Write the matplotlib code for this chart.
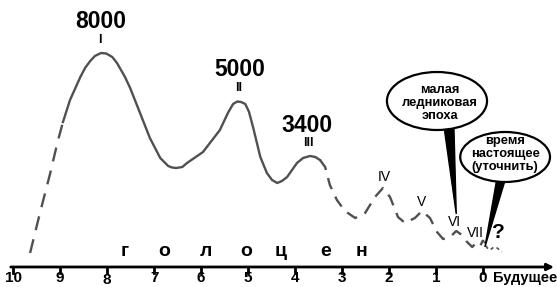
import matplotlib
matplotlib.use('Agg')
import matplotlib.pyplot as plt
from matplotlib.patches import Ellipse, Polygon

plt.rcParams['font.family'] = ['Liberation Sans', 'DejaVu Sans']

# --- данные (тыс. лет назад, условный уровень) ---
# начало, пунктир
early_years = [9.64, 9.43, 9.21, 9.06, 8.94]
early_level = [34, 74, 114, 144, 165]

# основная часть, сплошная линия
main_years = [8.94, 8.79, 8.57, 8.47, 8.36, 8.26, 8.13, 8.02, 7.89, 7.79, 7.62, 7.51,
              7.30, 7.09, 6.87, 6.70, 6.62, 6.53, 6.40, 6.30, 5.96, 5.60, 5.43, 5.32,
              5.23, 5.15, 5.06, 4.98, 4.89, 4.74, 4.60, 4.49, 4.38, 4.28, 4.17, 3.96,
              3.83, 3.68, 3.57, 3.47]
main_level = [165, 187, 210, 219, 226, 231, 234, 233.5, 230, 224, 210, 199,
              174, 149, 129, 121, 119.5, 119, 120, 124, 135, 157, 174, 183,
              185.5, 185, 183, 175, 159, 130, 114, 107, 104, 106, 110, 124,
              129, 131, 130, 127]

# поздняя часть, пунктир
late_years = [3.47, 3.36, 3.26, 3.11, 2.94, 2.72, 2.51, 2.30, 2.13, 1.98, 1.81, 1.66,
              1.45, 1.30, 1.13, 0.98, 0.85, 0.70, 0.57, 0.45, 0.34, 0.23, 0.15, 0.06, 0.00]
late_level = [127, 120, 102, 87, 76, 69, 74, 90, 99, 90, 70, 64,
              69, 76, 69, 55, 48, 50, 56, 52, 45, 40, 44, 41, 47]

# будущее, точки
future_years = [0.00, -0.09, -0.15, -0.23, -0.30, -0.40]
future_level = [47, 39, 37, 40, 39, 35]

tick_years = [10, 9, 8, 7, 6, 5, 4, 3, 2, 1, 0]
big_labels = ['8000', '5000', '3400']
roman = ['I', 'II', 'III', 'IV', 'V', 'VI', 'VII']
holocene = ['г', 'о', 'л', 'о', 'ц', 'е', 'н']
holocene_years = [7.62, 6.79, 5.89, 5.05, 4.30, 3.36, 2.59]

# --- рисунок ---
fig = plt.figure(figsize=(5.57, 2.87), dpi=100)
ax = fig.add_axes([0, 0, 1, 1])
ax.set_xlim(10.28, -1.574)
ax.set_ylim(0, 287)
ax.axis('off')

col = '#505050'
ax.plot(early_years, early_level, color=col, lw=1.7, dashes=(6, 4))
ax.plot(main_years, main_level, color=col, lw=1.7, solid_joinstyle='round')
ax.plot(late_years, late_level, color=col, lw=1.7, dashes=(5, 3.5))
ax.plot(future_years, future_level, color=col, lw=1.2, dashes=(2, 2))

# ось времени
ax.annotate('', xy=(-1.57, 20), xytext=(10.11, 20),
            arrowprops=dict(arrowstyle='-|>', color='black', lw=2, mutation_scale=10))
for t in tick_years:
    ax.plot([t, t], [14, 20], color='black', lw=2)
    dy = -1.5 if t == 8 else 0
    ax.text(t, 8.5 + dy, str(t), ha='center', va='center', fontsize=11, fontweight='bold')
ax.text(-0.89, 9, 'Будущее', ha='center', va='center', fontsize=10.5, fontweight='bold')

for t, ch in zip(holocene_years, holocene):
    ax.text(t, 35, ch, ha='center', va='center', fontsize=14, fontweight='bold')

# подписи максимумов
for (t, y), s in zip([(8.13, 265), (5.18, 217), (3.74, 161)], big_labels):
    ax.text(t, y, s, ha='center', va='center', fontsize=16.5, fontweight='bold')
for (t, y), s in zip([(8.15, 247), (5.2, 199), (3.72, 144)], roman[:3]):
    ax.text(t, y, s, ha='center', va='center', fontsize=9, fontweight='bold')
for (t, y), s in zip([(2.11, 110), (1.30, 85), (0.60, 65), (0.17, 54)], roman[3:]):
    ax.text(t, y, s, ha='center', va='center', fontsize=10)
ax.text(-0.32, 54, '?', ha='center', va='center', fontsize=15, fontweight='bold')

# выноски
ax.add_patch(Polygon([(0.83, 160), (0.62, 160), (0.57, 73)], closed=True,
                     color='black', zorder=3))
ax.add_patch(Ellipse((0.98, 186), 2.13, 58, facecolor='white', edgecolor='black',
                     lw=1.6, zorder=4))
ax.text(0.92, 184, 'малая\nледниковая\nэпоха', ha='center', va='center',
        fontsize=9.3, fontweight='bold', linespacing=1.15, zorder=5)

ax.add_patch(Polygon([(-0.30, 110), (-0.49, 110), (-0.04, 40)], closed=True,
                     color='black', zorder=3))
ax.add_patch(Ellipse((-0.47, 130), 1.91, 50, facecolor='white', edgecolor='black',
                     lw=1.6, zorder=4))
ax.text(-0.47, 133, 'время\nнастоящее\n(уточнить)', ha='center', va='center',
        fontsize=9.3, fontweight='bold', linespacing=1.15, zorder=5)

plt.savefig('out.png', dpi=100)
